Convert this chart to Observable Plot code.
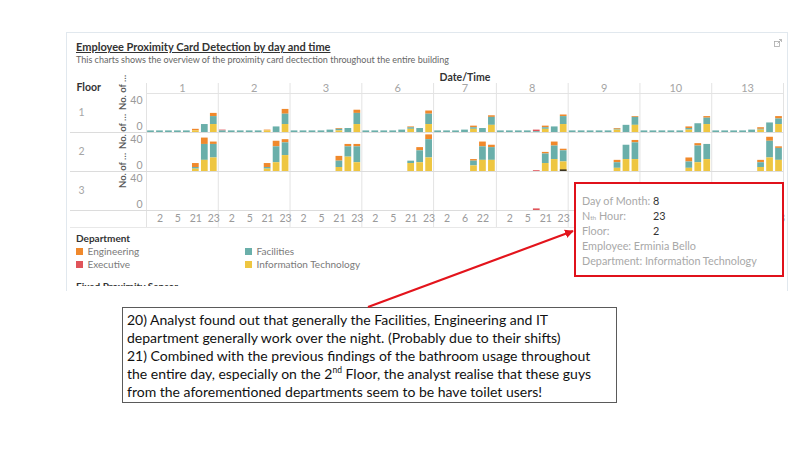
<!DOCTYPE html>
<html><head><meta charset="utf-8">
<script src="https://cdn.jsdelivr.net/npm/d3@7"></script>
<script src="https://cdn.jsdelivr.net/npm/@observablehq/plot@0.6"></script>
<style>
body{margin:0;width:800px;height:450px;position:relative;overflow:hidden;background:#fff;font-family:Lato,"Noto Sans",sans-serif;}
.abs{position:absolute;white-space:nowrap;}
.tl{position:absolute;white-space:nowrap;font-size:10.8px;line-height:13px;color:#a8a8a8;}
.tv{position:absolute;white-space:nowrap;font-size:10.8px;line-height:13px;color:#333;}
.an{position:absolute;white-space:nowrap;font-size:14px;line-height:18px;color:#111;font-family:Lato,'Liberation Sans',sans-serif;left:127px;}
</style></head><body>
<div class="abs" style="left:66px;top:32px;width:720px;height:258px;border:1px solid #e1e8ee;border-bottom:none;"></div>
<div class="abs" style="left:76px;top:40px;font-size:11px;line-height:13px;font-weight:700;color:#333;text-decoration:underline;">Employee Proximity Card Detection by day and time</div>
<div class="abs" style="left:76px;top:55px;font-size:9px;line-height:10px;color:#666;">This charts shows the overview of the proximity card dectection throughout the entire building</div>
<svg class="abs" style="left:774px;top:39px" width="8" height="8"><rect x="0.5" y="2.5" width="5" height="5" fill="none" stroke="#aaa" stroke-width="0.8"/><path d="M3.5 4.5 L7.5 0.5 M5 0.5 H7.5 V3" fill="none" stroke="#aaa" stroke-width="0.8"/></svg>
<div id="chart" class="abs" style="left:0;top:66px"></div>
<div id="legend" class="abs" style="left:76px;top:232px;"></div>
<div class="abs" style="left:76px;top:280px;height:6px;overflow:hidden;width:200px"><div style="font-size:10px;font-weight:700;color:#333;line-height:12px;">Fixed Proximity Sensor</div></div>

<div class="abs" style="left:574px;top:182px;width:206px;height:91px;border:2.5px solid #e0111b;background:#fff;"></div>
<div class="tl" style="left:582px;top:194px;">Day of Month:</div>
<div class="tl" style="left:582px;top:209px;">N<span style="font-size:6.5px">th</span> Hour:</div>
<div class="tl" style="left:582px;top:224px;">Floor:</div>
<div class="tl" style="left:582px;top:239px;">Employee: Erminia Bello</div>
<div class="tl" style="left:582px;top:254px;">Department: Information Technology</div>
<div class="tv" style="left:653px;top:194px;">8</div>
<div class="tv" style="left:653px;top:209px;">23</div>
<div class="tv" style="left:653px;top:224px;">2</div>

<div class="abs" style="left:122px;top:307px;width:495px;height:96px;border:1px solid #5a5a5a;box-sizing:border-box;background:#fff;"></div>
<div class="an" style="top:311px;">20) Analyst found out that generally the Facilities, Engineering and IT</div>
<div class="an" style="top:329px;">department generally work over the night. (Probably due to their shifts)</div>
<div class="an" style="top:347px;">21) Combined with the previous findings of the bathroom usage throughout</div>
<div class="an" style="top:365px;">the entire day, especially on the 2<sup style="font-size:8.5px;line-height:0">nd</sup> Floor, the analyst realise that these guys</div>
<div class="an" style="top:383px;">from the aforementioned departments seem to be have toilet users!</div>

<svg class="abs" style="left:0;top:0;pointer-events:none" width="800" height="450">
<defs><marker id="ah" viewBox="0 0 10 10" refX="9" refY="5" markerWidth="4" markerHeight="4" orient="auto"><path d="M0 0 L10 5 L0 10 z" fill="#e3141c"/></marker></defs>
<line x1="368" y1="307" x2="573" y2="231" stroke="#e3141c" stroke-width="2.2" marker-end="url(#ah)"/>
</svg>

<script>
// ---- data ----
const days = [1, 2, 3, 6, 7, 8, 9, 10, 13];
const dayHours = [
  [1, 2, 4, 5, 6, 21, 22, 23],
  [1, 2, 4, 5, 6, 21, 22, 23],
  [1, 2, 4, 5, 6, 21, 22, 23],
  [1, 2, 4, 5, 6, 21, 22, 23],
  [1, 2, 4, 6, 21, 22, 23],
  [1, 2, 4, 5, 6, 21, 22, 23],
  [1, 2, 4, 5, 6, 21, 22, 23],
  [1, 2, 4, 5, 6, 21, 22, 23],
  [1, 2, 4, 5, 6, 21, 22, 23]
];
const floors = [1, 2, 3];
const departments = ["Engineering", "Executive", "Facilities", "Information Technology"];
const deptColors = ["#f0892c", "#e0545a", "#6aafaa", "#eec641"];
const stackOrder = ["Information Technology", "Facilities", "Executive", "Engineering"];
const yTicks = [0, 40];
const yMax = 49;
// rows: [day, hour, Engineering, Executive, Facilities, Information Technology]
const floor1 = [
  [1,1,0,0,2,0],[1,2,0,0,2,0],[1,4,0,0,2,0],[1,5,0,0,2,0],[1,6,0,0,2,0],[1,21,2,0,0,2],[1,22,0,0,10,0],[1,23,4,0,10,10],
  [2,1,0,1,2,0],[2,2,0,0,2,0],[2,4,0,0,2,0],[2,5,0,0,2,0],[2,6,0,0,2,0],[2,21,1,0,0,2],[2,22,0,0,7,0],[2,23,6,0,13,10],
  [3,1,0,0,2,0],[3,2,0,0,2,0],[3,4,0,0,2,0],[3,5,0,0,2,0],[3,6,0,0,3,0],[3,21,1,0,2,2],[3,22,0,0,5,0],[3,23,4,0,14,10],
  [6,1,0,0,2,0],[6,2,0,0,2,0],[6,4,0,0,2,0],[6,5,0,0,2,0],[6,6,0,0,3,0],[6,21,1,0,2,4],[6,22,0,0,5,0],[6,23,4,0,13,10],
  [7,1,0,0,2,0],[7,2,0,0,2,0],[7,4,0,0,2,0],[7,6,0,0,3,0],[7,21,2,0,2,4],[7,22,0,0,5,0],[7,23,2,0,10,9],
  [8,1,0,0,2,0],[8,2,0,0,2,0],[8,4,0,0,2,0],[8,5,0,0,2,0],[8,6,0,2,1,0],[8,21,2,0,2,4],[8,22,0,0,7,0],[8,23,2,0,10,10],
  [9,1,0,0,2,0],[9,2,0,0,2,0],[9,4,0,0,2,0],[9,5,0,0,2,0],[9,6,0,0,2,0],[9,21,1,0,1,3],[9,22,0,0,9,0],[9,23,1,0,10,9],
  [10,1,0,0,2,0],[10,2,0,0,2,0],[10,4,0,0,2,0],[10,5,0,0,2,0],[10,6,0,0,2,0],[10,21,2,0,2,3],[10,22,0,0,11,0],[10,23,2,0,8,10],
  [13,1,0,0,2,0],[13,2,0,0,2,0],[13,4,0,0,2,0],[13,5,0,0,2,0],[13,6,0,0,3,0],[13,21,2,0,1,3],[13,22,0,0,12,0],[13,23,3,0,7,10]
];
const floor2 = [
  [1,21,5,0,2,3],[1,22,8,0,20,14],[1,23,3,0,17,17],
  [2,21,5,0,2,3],[2,22,7,0,20,11],[2,23,4,0,16,20],
  [3,21,6,0,8,5],[3,22,3,0,13,18],[3,23,3,0,20,11],
  [6,21,0,0,3,10],[6,22,4,0,15,11],[6,23,6,0,23,17],
  [7,21,2,0,6,7],[7,22,6,0,17,14],[7,23,3,0,16,14],
  [8,6,0,1,0,0],[8,21,2,0,12,10],[8,22,5,0,17,15],[8,23,2,0,14,12],
  [9,21,3,0,7,4],[9,22,0,0,18,15],[9,23,3,0,21,15],
  [10,21,5,0,8,4],[10,22,3,0,21,11],[10,23,0,0,19,15],
  [13,21,3,0,6,5],[13,22,5,0,21,17],[13,23,2,0,15,14]
];
const floor3 = [
  [8,6,0,2,0,0]
];
const selected = [{day: 8, hour: 23, floor: 2, value: 2}];

// ---- build ----
const keyOf = (d, h) => `${d}-${h}`;
const keys = days.flatMap((d, i) => dayHours[i].map(h => keyOf(d, h)));
const tickLabel = new Map();
days.forEach((d, i) => dayHours[i].forEach((h, j) => tickLabel.set(keyOf(d, h), j % 2 === 1 ? String(h) : "")));
const records = [];
[floor1, floor2, floor3].forEach((rows, fi) => rows.forEach(r => {
  departments.forEach((dep, k) => { if (r[2 + k] > 0) records.push({key: keyOf(r[0], r[1]), floor: floors[fi], dept: dep, value: r[2 + k]}); });
}));

const W = 800, H = 164, ML = 146, MR = 17, MT = 26, MB = 20;
const step = (W - ML - MR) / keys.length;
const dayLabelsEven = [], dayLabelsOdd = [];
days.forEach((d, i) => {
  const n = dayHours[i].length;
  const rec = {fy: 1, key: keyOf(d, dayHours[i][Math.floor(n / 2)]), t: String(d)};
  (n % 2 === 0 ? dayLabelsEven : dayLabelsOdd).push(rec);
});
const bounds = days.map((d, i) => keyOf(d, dayHours[i][0]));
const lastKey = keys[keys.length - 1];
const sepColor = "#e3e3e3";
function seps(fy, opts) {
  return [
    Plot.ruleX(bounds.map(k => ({k, fy})), {x: "k", fy: "fy", dx: -step / 2, stroke: sepColor, ...opts}),
    Plot.ruleX([{k: lastKey, fy}], {x: "k", fy: "fy", dx: step / 2, stroke: sepColor, ...opts})
  ];
}

const chart = Plot.plot({
  width: W, height: H,
  marginLeft: ML, marginRight: MR, marginTop: MT, marginBottom: MB,
  style: {fontFamily: "Lato, 'Noto Sans', sans-serif", fontSize: "10px", background: "transparent", overflow: "visible"},
  x: {type: "band", domain: keys, paddingInner: 0.25, paddingOuter: 0.125},
  y: {domain: [0, yMax]},
  fy: {domain: floors, padding: 0, axis: null},
  color: {domain: departments, range: deptColors},
  marks: [
    ...seps(1, {insetTop: -10}), ...seps(2, {}), ...seps(3, {insetBottom: -17}),
    Plot.ruleY(floors.map(f => ({fy: f})), {fy: "fy", y: () => 0, insetLeft: -76, stroke: "#dcdcdc"}),
    Plot.ruleY([{fy: 1}], {fy: "fy", y: () => yMax, stroke: sepColor}),
    Plot.ruleY([{fy: 3}], {fy: "fy", y: () => 0, dy: 17, insetLeft: -76, stroke: "#e8e8e8"}),
    Plot.barY(records, {x: "key", y: "value", fill: "dept", fy: "floor", order: stackOrder}),
    Plot.barY(selected, {x: d => keyOf(d.day, d.hour), y: "value", fy: "floor", fill: "#3a3322"}),
    Plot.axisY({ticks: [yTicks[1]], tickSize: 0, tickPadding: 4, label: null, color: "#9a9a9a", fontSize: 10.5}),
    Plot.axisY({ticks: [yTicks[0]], tickSize: 0, tickPadding: 4, label: null, color: "#9a9a9a", fontSize: 10.5, dy: -6}),
    Plot.axisX({tickSize: 0, tickPadding: 4, tickFormat: k => tickLabel.get(k), label: null, color: "#9a9a9a", fontSize: 10.5}),
    Plot.text(dayLabelsEven, {x: "key", fy: "fy", text: "t", frameAnchor: "top", lineAnchor: "middle", dy: -5.5, dx: -step / 2, fill: "#a5a5a5", fontSize: 11}),
    Plot.text(dayLabelsOdd, {x: "key", fy: "fy", text: "t", frameAnchor: "top", lineAnchor: "middle", dy: -5.5, fill: "#a5a5a5", fontSize: 11}),
    Plot.text([{fy: 1}], {fy: "fy", text: () => "Date/Time", frameAnchor: "top", lineAnchor: "middle", dy: -15.5, fill: "#333", fontWeight: "bold", fontSize: 10.5}),
    Plot.text([{fy: 1}], {fy: "fy", text: () => "Floor", frameAnchor: "top-left", lineAnchor: "middle", dx: -70, dy: -5.5, textAnchor: "start", fill: "#333", fontWeight: "bold", fontSize: 10.5}),
    Plot.text(floors.map(f => ({fy: f, t: String(f)})), {fy: "fy", text: "t", frameAnchor: "left", lineAnchor: "middle", dx: -68, textAnchor: "start", fill: "#a5a5a5", fontSize: 10.5}),
    Plot.text(floors.map(f => ({fy: f})), {fy: "fy", text: () => "No. of \u2026", frameAnchor: "left", lineAnchor: "middle", dx: -24, dy: -3, rotate: -90, fill: "#555", fontWeight: 600, fontSize: 9.5})
  ]
});
document.getElementById("chart").appendChild(chart);

// legend
const color = chart.scale("color");
const lg = document.getElementById("legend");
lg.innerHTML = `<div style="font-size:10px;font-weight:700;color:#333;line-height:12px;">Department</div>`;
const grid = document.createElement("div");
grid.style.cssText = "display:grid;grid-template-columns:169px 169px;grid-auto-flow:column;grid-template-rows:13px 13px;margin-top:1px;";
color.domain.forEach((dep, i) => {
  const it = document.createElement("div");
  it.style.cssText = "display:flex;align-items:center;font-size:10px;color:#7a7a7a;line-height:13px;";
  it.innerHTML = `<span style="display:inline-block;width:6.5px;height:6.5px;background:${color.range[i]};margin-right:5px"></span>${dep}`;
  grid.appendChild(it);
});
lg.appendChild(grid);
</script>
</body></html>
